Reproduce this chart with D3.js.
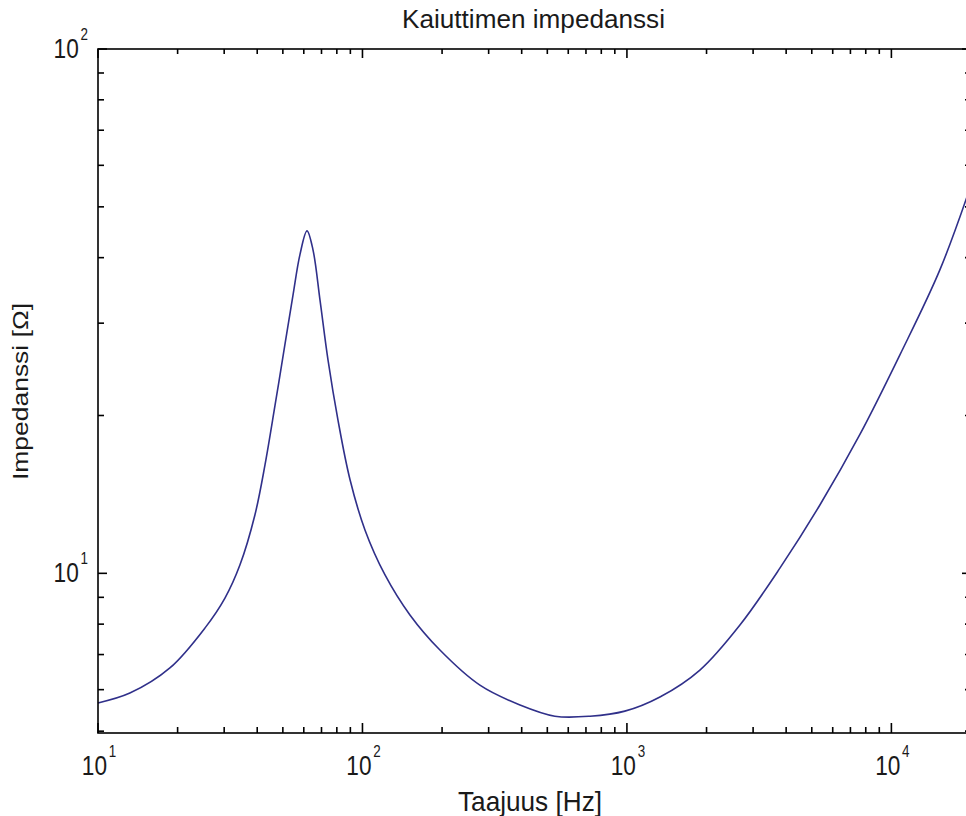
<!DOCTYPE html>
<html>
<head>
<meta charset="utf-8">
<script src="https://cdn.jsdelivr.net/npm/d3@7"></script>
<style>
  html, body { margin: 0; padding: 0; background: #fff; }
  svg { display: block; }
  text { font-family: "Liberation Sans", Arial, sans-serif; fill: #1a1a1a; }
</style>
</head>
<body>
<svg id="chart" width="966" height="816"></svg>
<script>
// ---- data ----
const titleText = "Kaiuttimen impedanssi";
const xLabelText = "Taajuus [Hz]";
const yLabelText = "Impedanssi [\u03A9]";
const xDomain = [10, 20000];
const yDomain = [4.96, 100];
const xMajorTicks = [10, 100, 1000, 10000];
const xMajorExp = ["1", "2", "3", "4"];
const yMajorTicks = [10, 100];
const yMajorExp = ["1", "2"];
const freq = [10, 13.2, 18.7, 25.4, 30.2, 34.4, 39.2, 42.8, 46.7, 50.9, 54.6, 58.0, 61.7, 65.0, 69.1, 74.1, 80.8, 89.7, 102.2, 121.7, 151.2, 196.3, 278, 394, 534, 725, 982, 1333, 1888, 2675, 3788, 5366, 7603, 10770, 15250, 20000];
const impedance = [5.66, 5.91, 6.60, 7.87, 8.97, 10.37, 12.92, 16.1, 20.9, 27.3, 33.9, 40.5, 45.0, 41.4, 33.2, 25.5, 19.6, 15.1, 12.1, 9.93, 8.33, 7.14, 6.12, 5.61, 5.34, 5.34, 5.46, 5.81, 6.54, 7.97, 10.23, 13.5, 18.4, 26.1, 37.9, 55.0];

// ---- layout ----
const L = 98, R = 971, T = 49, B = 733;
const svg = d3.select("#chart");
const x = d3.scaleLog().domain(xDomain).range([L, R]);
const y = d3.scaleLog().domain(yDomain).range([B, T]);

function minorTicks(domain) {
  const out = [];
  for (let e = -2; e <= 6; e++) {
    for (let m = 2; m <= 9; m++) {
      const v = m * Math.pow(10, e);
      if (v > domain[0] * 1.0001 && v < domain[1] * 0.9999) out.push(v);
    }
  }
  return out;
}
const xMinor = minorTicks(xDomain);
const yMinor = minorTicks(yDomain);

// curve
const line = d3.line()
  .x((d, i) => x(freq[i]))
  .y((d, i) => y(impedance[i]))
  .curve(d3.curveCatmullRom.alpha(0.5));
svg.append("path")
  .datum(freq)
  .attr("d", line)
  .attr("fill", "none")
  .attr("stroke", "#30308a")
  .attr("stroke-width", 1.6);

// axes box
svg.append("rect")
  .attr("x", L).attr("y", T).attr("width", R - L).attr("height", B - T)
  .attr("fill", "none").attr("stroke", "#000").attr("stroke-width", 1.6);

// ticks (inside, on all four sides)
const tickG = svg.append("g");
function tick(x1, y1, x2, y2) {
  tickG.append("line")
    .attr("x1", x1).attr("y1", y1).attr("x2", x2).attr("y2", y2)
    .attr("stroke", "#000").attr("stroke-width", 1.6);
}
xMinor.forEach(v => { tick(x(v), B, x(v), B - 6); tick(x(v), T, x(v), T + 5); });
xMajorTicks.forEach(v => { tick(x(v), B, x(v), B - 10); tick(x(v), T, x(v), T + 9); });
yMinor.forEach(v => { tick(L, y(v), L + 6, y(v)); tick(R, y(v), R - 6, y(v)); });
yMajorTicks.forEach(v => { tick(L, y(v), L + 9, y(v)); tick(R, y(v), R - 9, y(v)); });

// power-of-ten label: one text element, "10" plus superscript exponent
function powLabel(px, py, exp, anchor) {
  const t = svg.append("text")
    .attr("transform", `translate(${px},${py}) scale(0.84,1)`)
    .attr("text-anchor", anchor);
  t.append("tspan").attr("font-size", 27).text("10");
  t.append("tspan").attr("font-size", 16).attr("dx", 2).attr("dy", -18).text(exp);
}
xMajorTicks.forEach((v, i) => powLabel(x(v) + 1, B + 42, xMajorExp[i], "middle"));
yMajorTicks.forEach((v, i) => powLabel(L - 10, y(v) + 9, yMajorExp[i], "end"));

// title and axis labels
svg.append("text").attr("x", 533.5).attr("y", 28).attr("text-anchor", "middle")
  .attr("font-size", 26).attr("textLength", 263).attr("lengthAdjust", "spacingAndGlyphs")
  .text(titleText);
svg.append("text").attr("x", 530).attr("y", 811).attr("text-anchor", "middle")
  .attr("font-size", 28).attr("textLength", 144).attr("lengthAdjust", "spacingAndGlyphs")
  .text(xLabelText);
svg.append("text").attr("transform", "translate(28,391.5) rotate(-90)")
  .attr("text-anchor", "middle")
  .attr("font-size", 22).attr("textLength", 177).attr("lengthAdjust", "spacingAndGlyphs")
  .text(yLabelText);
</script>
</body>
</html>
